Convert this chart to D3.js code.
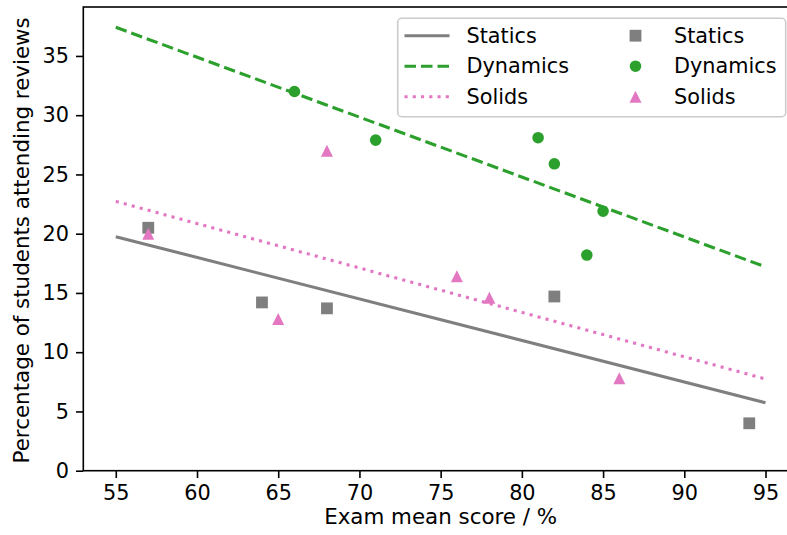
<!DOCTYPE html>
<html>
<head>
<meta charset="utf-8">
<script src="https://cdn.jsdelivr.net/npm/d3@7"></script>
<style>
  html, body { margin: 0; padding: 0; background: #fff; }
  svg { display: block; font-family: "DejaVu Sans", sans-serif; }
</style>
</head>
<body>
<script>
// ---- Data ----
const staticsX = [57, 64, 68, 82, 94];
const staticsY = [20.5, 14.2, 13.7, 14.7, 4.0];
const dynamicsX = [66, 71, 81, 82, 84, 85];
const dynamicsY = [32.0, 27.9, 28.1, 25.9, 18.2, 21.9];
const solidsX = [57, 65, 68, 76, 78, 86];
const solidsY = [20.0, 12.8, 27.0, 16.4, 14.6, 7.8];
const fitX = [55, 95];
const staticsFit = [19.75, 5.74];
const dynamicsFit = [37.42, 17.2];
const solidsFit = [22.73, 7.74];
const xTicks = [55, 60, 65, 70, 75, 80, 85, 90, 95];
const yTicks = [0, 5, 10, 15, 20, 25, 30, 35];
const seriesNames = ["Statics", "Dynamics", "Solids"];

// ---- Layout ----
const W = 787, H = 535;
const pL = 83.3, pR = 798, pT = 7, pB = 470.7;
const FS = 20.8, LFS = 21.4;
const colors = { Statics: "#7f7f7f", Dynamics: "#2ca02c", Solids: "#e377c2" };
const dashes = { Statics: null, Dynamics: "11.5,5", Solids: "3.1,5.15" };

const x = d3.scaleLinear().domain([53, 97]).range([pL, pR]);
const y = d3.scaleLinear().domain([0, 39.13]).range([pB, pT]);

const svg = d3.select("body").append("svg").attr("width", W).attr("height", H);

const series = [
  { name: "Statics", xs: staticsX, ys: staticsY, fit: staticsFit, shape: "sq" },
  { name: "Dynamics", xs: dynamicsX, ys: dynamicsY, fit: dynamicsFit, shape: "circ" },
  { name: "Solids", xs: solidsX, ys: solidsY, fit: solidsFit, shape: "tri" }
];

function markerPath(shape) {
  if (shape === "tri") return "M0,-6L6,6L-6,6Z";
  if (shape === "sq") return "M-5.9,-5.9H5.9V5.9H-5.9Z";
  return d3.symbol().type(d3.symbolCircle).size(Math.PI * 5.8 * 5.8)();
}

const plot = svg.append("g");
const line = d3.line().x(d => x(d[0])).y(d => y(d[1]));

// fit lines
series.forEach(s => {
  plot.append("path")
    .datum(fitX.map((v, i) => [v, s.fit[i]]))
    .attr("d", line)
    .attr("fill", "none")
    .attr("stroke", colors[s.name])
    .attr("stroke-width", 3.1)
    .attr("stroke-dasharray", dashes[s.name]);
});

// scatter
series.forEach(s => {
  plot.selectAll(null)
    .data(s.xs.map((v, i) => [v, s.ys[i]]))
    .enter().append("path")
    .attr("d", markerPath(s.shape))
    .attr("transform", d => `translate(${x(d[0])},${y(d[1])})`)
    .attr("fill", colors[s.name]);
});

// axes
const xAxis = svg.append("g").attr("transform", `translate(0,${pB})`)
  .call(d3.axisBottom(x).tickValues(xTicks).tickSize(7.3).tickPadding(7).tickSizeOuter(0));
const yAxis = svg.append("g").attr("transform", `translate(${pL},0)`)
  .call(d3.axisLeft(y).tickValues(yTicks).tickSize(7.3).tickPadding(7).tickSizeOuter(0));
[xAxis, yAxis].forEach(a => {
  a.select(".domain").remove();
  a.selectAll(".tick line").attr("stroke", "#000").attr("stroke-width", 1.6);
  a.selectAll(".tick text").attr("font-size", FS).attr("fill", "#000")
    .attr("font-family", "DejaVu Sans");
});

// frame
svg.append("rect").attr("x", pL).attr("y", pT)
  .attr("width", pR - pL).attr("height", pB - pT)
  .attr("fill", "none").attr("stroke", "#000").attr("stroke-width", 1.6);

// axis labels
svg.append("text").attr("x", (pL + pR) / 2).attr("y", 523.5)
  .attr("text-anchor", "middle").attr("font-size", LFS).attr("fill", "#000")
  .text("Exam mean score / %");
svg.append("text")
  .attr("transform", `translate(29,${(pT + pB) / 2 + 1.5}) rotate(-90)`)
  .attr("text-anchor", "middle").attr("font-size", LFS).attr("fill", "#000")
  .text("Percentage of students attending reviews");

// legend
const lg = svg.append("g");
lg.append("rect").attr("x", 397.7).attr("y", 18.3).attr("width", 388).attr("height", 98.4)
  .attr("rx", 4).attr("fill", "#fff").attr("fill-opacity", 0.8)
  .attr("stroke", "#cccccc").attr("stroke-width", 1.6);
const rowY = [35.7, 66.2, 96.7];
series.forEach((s, i) => {
  const cy = rowY[i];
  lg.append("line").attr("x1", 404.5).attr("x2", 449.5).attr("y1", cy).attr("y2", cy)
    .attr("stroke", colors[s.name]).attr("stroke-width", 3.1)
    .attr("stroke-dasharray", dashes[s.name]);
  lg.append("text").attr("x", 466.5).attr("y", cy + 7).attr("font-size", FS)
    .attr("fill", "#000").text(seriesNames[i]);
  lg.append("path").attr("d", markerPath(s.shape))
    .attr("transform", `translate(635.5,${cy})`).attr("fill", colors[s.name]);
  lg.append("text").attr("x", 674).attr("y", cy + 7).attr("font-size", FS)
    .attr("fill", "#000").text(seriesNames[i]);
});
</script>
</body>
</html>
